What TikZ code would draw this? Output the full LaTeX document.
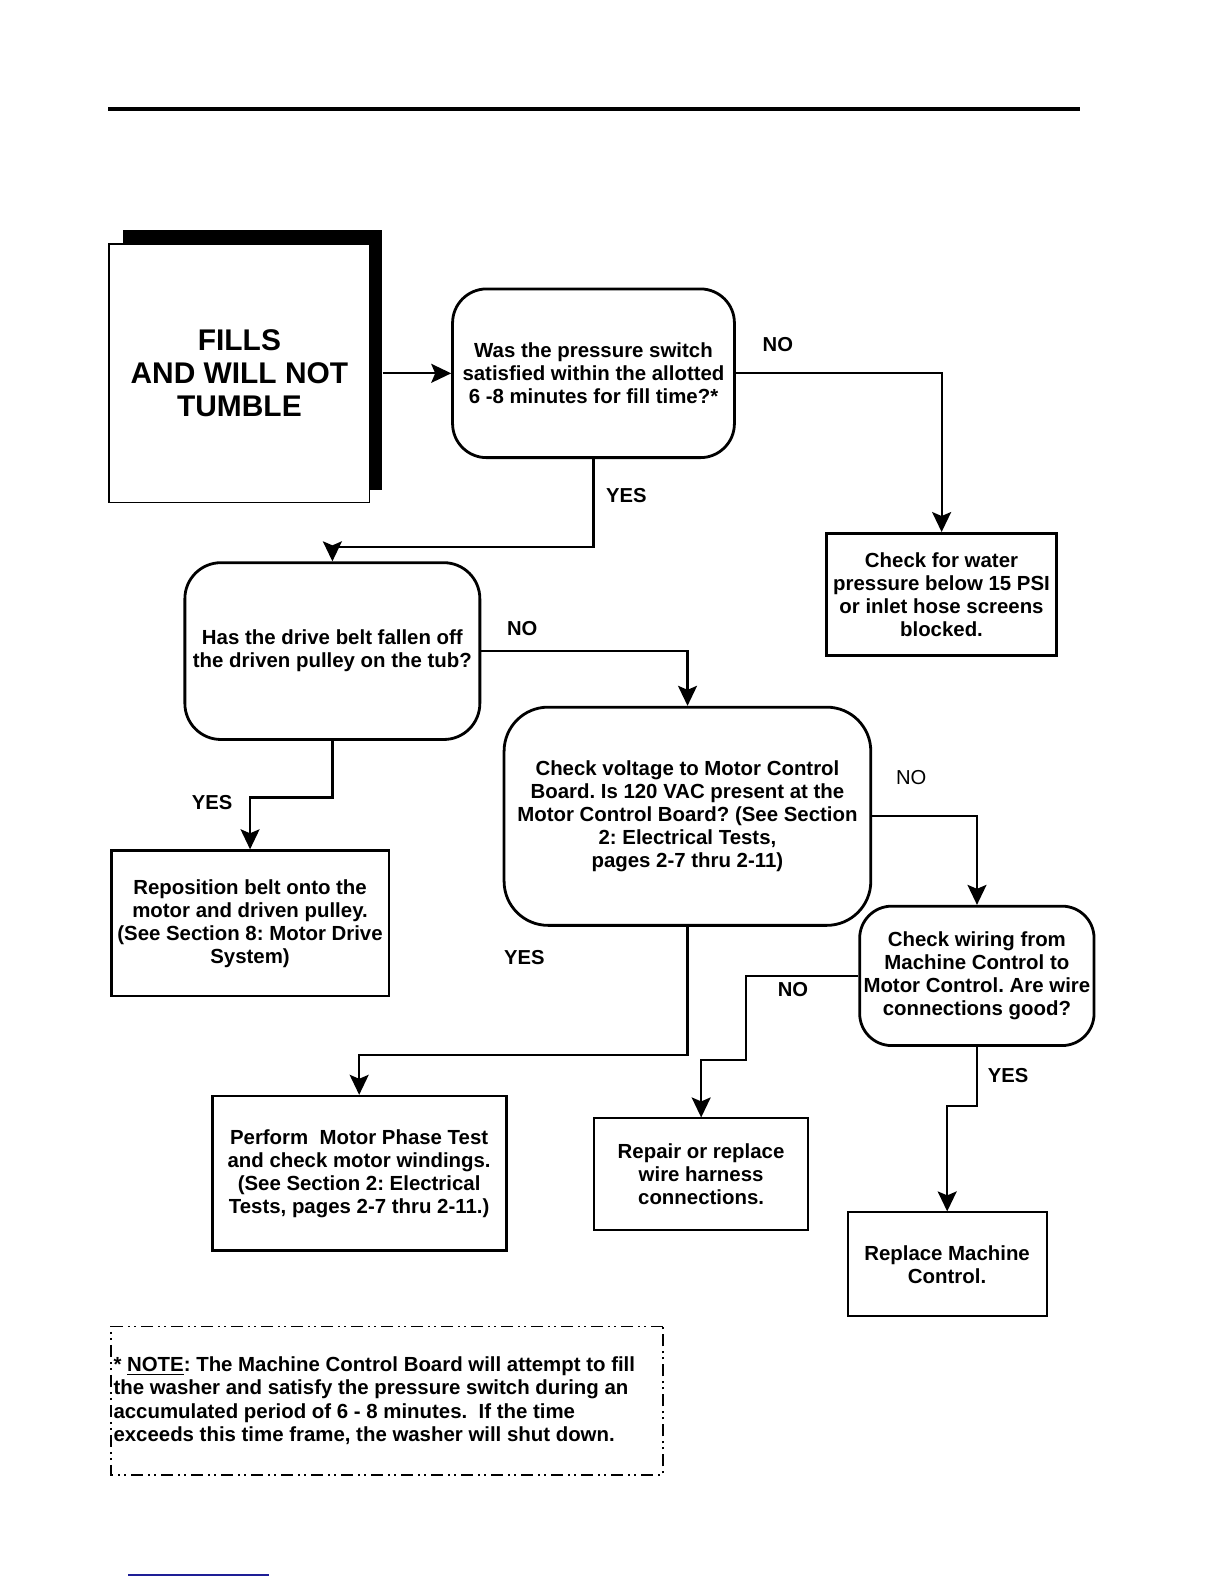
\documentclass[tikz,border=0pt]{standalone}
\usepackage{fontspec}
\setmainfont{Liberation Sans}
\usetikzlibrary{arrows.meta}
\definecolor{footblue}{RGB}{30,30,150}
\frenchspacing
\begin{document}
\begin{tikzpicture}[x=0.5pt,y=-0.5pt, scale=1.01, every node/.append style={transform shape},
  txt/.style={font=\bfseries\fontsize{10.1}{11.4}\selectfont, align=center, inner sep=0pt},
  decbox/.style={txt, draw, line width=1.4pt, rounded corners=17pt},
  actbox/.style={txt, draw, line width=1.4pt},
  thinbox/.style={txt, draw, line width=1pt},
  conn/.style={line width=1.1pt, -{Stealth[length=10pt,width=9.5pt,inset=2pt]}},
  lbl/.style={font=\bfseries\fontsize{10}{12}\selectfont, inner sep=0pt},
  lblr/.style={font=\fontsize{10}{12}\selectfont, inner sep=0pt}]
\useasboundingbox (0,0) rectangle (1212,1568);

% top rule
\draw[line width=2pt] (107,108) -- (1069,108);

% start box with shadow
\fill (122,228) rectangle (378,485);
\node[draw, fill=white, line width=0.7pt, minimum width=129pt, minimum height=128pt, inner sep=0pt,
      font=\bfseries\fontsize{14.8}{16.5}\selectfont, align=center] (start) at (237,369.5)
      {FILLS\\AND WILL NOT\\TUMBLE};

\node[decbox, minimum width=139.5pt, minimum height=83.5pt] (d1) at (587.5,369.5)
  {Was the pressure switch\\satisfied within the allotted\\6 -8 minutes for fill time?*};

\node[actbox, minimum width=114pt, minimum height=60.5pt] (water) at (932,588.5)
  {Check for water\\pressure below 15 PSI\\or inlet hose screens\\blocked.};

\node[decbox, rounded corners=18pt, minimum width=146pt, minimum height=87.5pt] (d2) at (329,644.5)
  {Has the drive belt fallen off\\the driven pulley on the tub?};

\node[decbox, rounded corners=22pt, minimum width=181.5pt, minimum height=108pt] (d3) at (680.5,808)
  {Check voltage to Motor Control\\Board. Is 120 VAC present at the\\Motor Control Board? (See Section\\2: Electrical Tests,\\pages 2-7 thru 2-11)};

\node[actbox, minimum width=137.5pt, minimum height=72pt] (repos) at (247.5,914)
  {Reposition belt onto the\\motor and driven pulley.\\(See Section 8: Motor Drive\\System)};

\node[decbox, rounded corners=16pt, minimum width=116pt, minimum height=69pt] (d4) at (967,966)
  {Check wiring from\\Machine Control to\\Motor Control. Are wire\\connections good?};

\node[actbox, minimum width=145.5pt, minimum height=76.5pt] (perform) at (355.5,1161.5)
  {Perform\ \ Motor Phase Test\\and check motor windings.\\(See Section 2: Electrical\\Tests, pages 2-7 thru 2-11.)};

\node[thinbox, minimum width=106pt, minimum height=55.5pt] (repair) at (694,1162.5)
  {Repair or replace\\wire harness\\connections.};

\node[thinbox, minimum width=98.5pt, minimum height=51.5pt] (replace) at (937.5,1251.5)
  {Replace Machine\\Control.};

% note box
\node[draw, line width=0.8pt, dash pattern=on 6pt off 2.5pt on 1pt off 2pt on 1pt off 2.5pt,
      minimum width=273pt, minimum height=73.5pt, inner sep=0pt] (note) at (383,1386.5) {};
\node[font=\bfseries\fontsize{10.1}{11.5}\selectfont, align=left, inner sep=0pt, anchor=west] (notetext)
  at (112,1386.5)
  {* \underline{NOTE}: The Machine Control Board will attempt to fill\\
   the washer and satisfy the pressure switch during an\\
   accumulated period of 6 - 8 minutes.\ \ If the time\\
   exceeds this time frame, the washer will shut down.};

% connectors
\draw[conn] ([xshift=6pt]start.east) -- (d1.west);
\draw[conn] (d1.east) -| (water.north);
\draw[conn] (d1.south) -- ++(0,87) -| (d2.north);
\draw[conn] (d2.east) -| (d3.north);
\draw[conn] (d2.south) -- ++(0,56) -| (repos.north);
\draw[conn] (d3.east) -| (d4.north);
\draw[conn] (d3.south) -- ++(0,127) -| (perform.north);
\draw[conn] (d4.west) -- ++(-111,0) -- ++(0,83) -| (repair.north);
\draw[conn] (d4.south) -- ++(0,58) -| (replace.north);

% labels
\node[lbl] (l1) at (770,341) {NO};
\node[lbl] (l2) at (620,491) {YES};
\node[lbl] (l3) at (517,622) {NO};
\node[lbl] (l4) at (210,794) {YES};
\node[lblr] (l5) at (902,770) {NO};
\node[lbl] (l6) at (519,948) {YES};
\node[lbl] (l7) at (785,980) {NO};
\node[lbl] (l8) at (998,1065) {YES};

% footer rule
\draw[footblue, line width=1pt] (127,1559) -- (266,1559);
\end{tikzpicture}
\end{document}
